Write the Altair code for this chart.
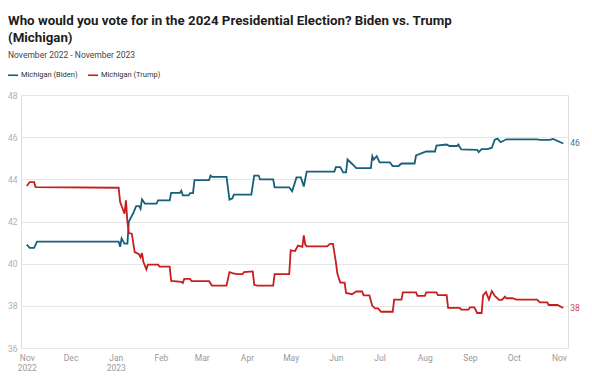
import altair as alt
import pandas as pd

biden_dates = [
    "2022-11-01", "2022-11-03", "2022-11-06", "2022-11-08", "2023-01-03", "2023-01-04",
    "2023-01-05", "2023-01-07", "2023-01-09", "2023-01-10", "2023-01-13", "2023-01-15",
    "2023-01-17", "2023-01-18", "2023-01-19", "2023-01-21", "2023-01-29", "2023-01-30",
    "2023-02-07", "2023-02-08", "2023-02-14", "2023-02-15", "2023-02-16", "2023-02-20",
    "2023-02-21", "2023-02-23", "2023-02-24", "2023-03-06", "2023-03-07", "2023-03-08",
    "2023-03-18", "2023-03-20", "2023-03-22", "2023-03-23", "2023-04-04", "2023-04-06",
    "2023-04-09", "2023-04-10", "2023-04-19", "2023-04-20", "2023-04-30", "2023-05-02",
    "2023-05-05", "2023-05-08", "2023-05-10", "2023-05-12", "2023-05-31", "2023-06-01",
    "2023-06-04", "2023-06-06", "2023-06-08", "2023-06-09", "2023-06-12", "2023-06-15",
    "2023-06-25", "2023-06-26", "2023-06-27", "2023-06-29", "2023-07-01", "2023-07-08",
    "2023-07-10", "2023-07-14", "2023-07-16", "2023-07-25", "2023-07-26", "2023-08-02",
    "2023-08-08", "2023-08-09", "2023-08-16", "2023-08-18", "2023-08-23", "2023-08-24",
    "2023-08-26", "2023-09-06", "2023-09-07", "2023-09-09", "2023-09-13", "2023-09-16",
    "2023-09-18", "2023-09-20", "2023-09-22", "2023-09-26", "2023-10-17", "2023-10-19",
    "2023-10-26", "2023-10-28", "2023-11-04",
]
biden_values = [
    40.9, 40.75, 40.75, 41.05, 41.05, 40.8,
    41.2, 40.95, 40.95, 42.0, 42.4, 42.73,
    42.73, 42.6, 43.05, 42.85, 42.85, 43.0,
    43.0, 43.36, 43.36, 43.46, 43.24, 43.24,
    43.35, 43.35, 43.96, 43.96, 44.18, 44.12,
    44.12, 43.04, 43.1, 43.27, 43.27, 44.18,
    44.18, 44.0, 44.0, 43.62, 43.62, 43.43,
    44.09, 44.09, 43.66, 44.37, 44.37, 44.58,
    44.58, 44.33, 44.33, 44.94, 44.74, 44.53,
    44.53, 45.1, 44.94, 45.1, 44.8, 44.8,
    44.63, 44.63, 44.75, 44.75, 45.13, 45.32,
    45.32, 45.6, 45.65, 45.58, 45.58, 45.65,
    45.42, 45.4, 45.29, 45.43, 45.43, 45.5,
    45.88, 45.93, 45.76, 45.9, 45.9, 45.87,
    45.87, 45.92, 45.7,
]

trump_dates = [
    "2022-11-01", "2022-11-03", "2022-11-06", "2022-11-07", "2023-01-03", "2023-01-04",
    "2023-01-07", "2023-01-08", "2023-01-09", "2023-01-10", "2023-01-12", "2023-01-14",
    "2023-01-17", "2023-01-18", "2023-01-19", "2023-01-20", "2023-01-22", "2023-01-23",
    "2023-01-30", "2023-01-31", "2023-02-07", "2023-02-08", "2023-02-15", "2023-02-16",
    "2023-02-17", "2023-02-21", "2023-02-22", "2023-03-06", "2023-03-08", "2023-03-18",
    "2023-03-20", "2023-03-22", "2023-03-25", "2023-03-29", "2023-03-30", "2023-04-05",
    "2023-04-06", "2023-04-08", "2023-04-19", "2023-04-20", "2023-04-30", "2023-05-01",
    "2023-05-04", "2023-05-06", "2023-05-09", "2023-05-10", "2023-05-11", "2023-05-12",
    "2023-05-26", "2023-05-28", "2023-05-30", "2023-06-01", "2023-06-02", "2023-06-04",
    "2023-06-07", "2023-06-08", "2023-06-12", "2023-06-15", "2023-06-19", "2023-06-20",
    "2023-06-24", "2023-06-26", "2023-06-28", "2023-06-30", "2023-07-02", "2023-07-10",
    "2023-07-11", "2023-07-16", "2023-07-17", "2023-07-26", "2023-07-27", "2023-08-01",
    "2023-08-02", "2023-08-09", "2023-08-10", "2023-08-16", "2023-08-17", "2023-08-25",
    "2023-08-26", "2023-08-31", "2023-09-01", "2023-09-04", "2023-09-06", "2023-09-09",
    "2023-09-10", "2023-09-12", "2023-09-14", "2023-09-16", "2023-09-18", "2023-09-21",
    "2023-09-23", "2023-09-25", "2023-09-26", "2023-09-30", "2023-10-03", "2023-10-17",
    "2023-10-19", "2023-10-24", "2023-10-25", "2023-10-31", "2023-11-04",
]
trump_values = [
    43.68, 43.87, 43.87, 43.63, 43.6, 42.92,
    42.37, 43.0, 41.97, 41.45, 41.42, 40.55,
    40.45, 40.3, 40.5, 40.08, 39.73, 39.95,
    39.95, 39.86, 39.86, 39.18, 39.14, 39.08,
    39.28, 39.28, 39.17, 39.17, 38.96, 38.96,
    39.6, 39.55, 39.5, 39.5, 39.6, 39.63,
    39.0, 38.96, 38.96, 39.5, 39.5, 40.63,
    40.6, 40.86, 40.8, 41.34, 40.9, 40.82,
    40.82, 40.94, 40.94, 40.08, 39.54, 39.1,
    39.1, 38.61, 38.55, 38.68, 38.68, 38.5,
    38.5, 38.0, 37.88, 37.88, 37.72, 37.72,
    38.29, 38.29, 38.64, 38.64, 38.47, 38.47,
    38.64, 38.64, 38.51, 38.51, 37.9, 37.9,
    37.82, 37.82, 37.93, 37.93, 37.66, 37.66,
    38.5, 38.66, 38.3, 38.7, 38.47, 38.28,
    38.28, 38.44, 38.36, 38.36, 38.29, 38.29,
    38.16, 38.16, 38.04, 38.04, 37.9,
]

series_names = ["Michigan (Biden)", "Michigan (Trump)"]
series_colors = ["#15607a", "#c71e1d"]
y_ticks = list(range(36, 49))

df = pd.concat([
    pd.DataFrame({"date": biden_dates, "value": biden_values, "series": series_names[0]}),
    pd.DataFrame({"date": trump_dates, "value": trump_values, "series": series_names[1]}),
])
last = df.groupby("series").tail(1).copy()
last["label"] = last["value"].round(0).astype(int).astype(str)

FONT = "Roboto"

x_enc = alt.X(
    "date:T",
    title=None,
    scale=alt.Scale(
        type="utc",
        domain=[alt.DateTime(year=2022, month=10, date=28, utc=True),
                alt.DateTime(year=2023, month=11, date=7, hours=6, utc=True)],
    ),
    axis=alt.Axis(
        tickCount="month",
        labelExpr="[utcFormat(datum.value, '%b'), (utcFormat(datum.value, '%m') == '01' || datum.index == 0) ? utcFormat(datum.value, '%Y') : '']",
        grid=False, domain=False, ticks=False,
        labelColor="#999999", labelFontSize=8.5, labelFont=FONT,
        labelPadding=5, labelLineHeight=10, labelOverlap=False,
    ),
)
y_enc = alt.Y(
    "value:Q",
    title=None,
    scale=alt.Scale(domain=[36, 48], nice=False, zero=False),
    axis=alt.Axis(
        values=y_ticks, grid=True, gridColor="#e6e6e6", gridWidth=1,
        domain=False, ticks=False,
        labelColor="#b0b0b0", labelFontSize=8.5, labelFont=FONT, labelPadding=4,
    ),
)
color_enc = alt.Color(
    "series:N",
    scale=alt.Scale(domain=series_names, range=series_colors),
    legend=alt.Legend(
        title=None, orient="none", direction="horizontal",
        legendX=-14, legendY=-26,
        symbolType="stroke", symbolSize=100, symbolStrokeWidth=1.6,
        labelFontSize=7.5, labelFont=FONT, labelColor="#333333",
        columnPadding=6, symbolOffset=0, labelOffset=2,
    ),
)

lines = alt.Chart(df).mark_line(strokeWidth=1.8, interpolate="linear").encode(
    x=x_enc, y=y_enc, color=color_enc
)
labels = alt.Chart(last).mark_text(
    align="left", dx=7, fontSize=8.5, font=FONT, opacity=0.85
).encode(
    x="date:T", y="value:Q", text="label:N",
    color=alt.Color("series:N", legend=None),
)

chart = (lines + labels).properties(
    width=547, height=253,
    autosize=alt.AutoSizeParams(type="none"),
    padding={"left": 13, "top": 87, "right": 16, "bottom": 32},
    title=alt.Title(
        text=["Who would you vote for in the 2024 Presidential Election? Biden vs. Trump", "(Michigan)"],
        subtitle="November 2022 - November 2023",
        anchor="start", frame="group", orient="top", dx=-13,
        font=FONT, fontSize=13.3, fontWeight="bold", color="#1d1d1d", lineHeight=17,
        subtitleFont=FONT, subtitleFontSize=8.5, subtitleColor="#444444",
        subtitlePadding=7, offset=9,
    ),
).configure_view(stroke=None).configure(background="white")

chart.save("out.html", embed_options={"renderer": "svg", "actions": False})
